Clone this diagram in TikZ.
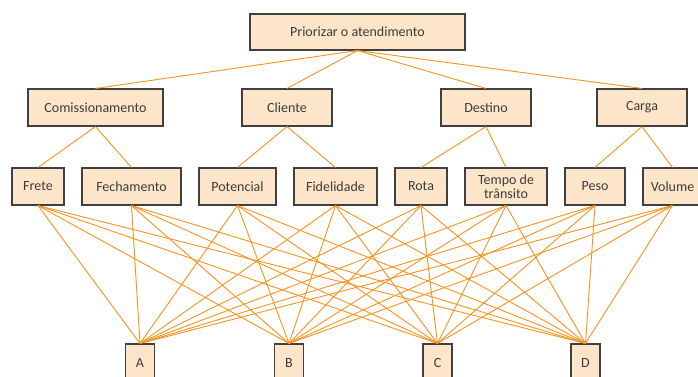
\documentclass[tikz,border=0pt]{standalone}
\usepackage{fontspec}
\setmainfont{Carlito}
\definecolor{boxfill}{HTML}{FDE5C9}
\definecolor{boxdraw}{HTML}{404040}
\definecolor{linkc}{HTML}{F7931E}
\definecolor{txt}{HTML}{3C3C3C}
\begin{document}
\begin{tikzpicture}[x=1pt,y=-1pt,
  box/.style={draw=boxdraw,fill=boxfill,line width=1.1pt,rectangle,inner sep=0pt,
    minimum height=37pt,text=txt,font=\fontsize{14}{15}\selectfont,align=center},
  link/.style={draw=linkc,line width=0.9pt}]
\useasboundingbox[fill=white] (0,0) rectangle (698,377);
% nodes
\node[box,minimum width=215pt,minimum height=36pt] (root) at (357.5,32) {Priorizar o atendimento};
\node[box,minimum width=135pt] (com) at (95.5,107.5) {Comissionamento};
\node[box,minimum width=90pt] (cli) at (287,107.5) {Cliente};
\node[box,minimum width=90pt] (des) at (486,107.5) {Destino};
\node[box,minimum width=90pt] (car) at (642,107.5) {Carga};
\node[box,minimum width=52pt] (fre) at (38,186.5) {Frete};
\node[box,minimum width=99pt] (fec) at (131.5,186.5) {Fechamento};
\node[box,minimum width=77pt] (pot) at (237.5,186.5) {Potencial};
\node[box,minimum width=83pt] (fid) at (335.5,186.5) {Fidelidade};
\node[box,minimum width=52pt] (rot) at (421,186.5) {Rota};
\node[box,minimum width=82pt,font=\fontsize{14}{14.5}\selectfont] (tem) at (506,186.5) {Tempo de\\trânsito};
\node[box,minimum width=60pt] (pes) at (595,186.5) {Peso};
\node[box,minimum width=59pt] (vol) at (672.5,186.5) {Volume};
\node[box,minimum width=29pt,minimum height=38pt] (A) at (140,363) {A};
\node[box,minimum width=29pt,minimum height=38pt] (B) at (289,363) {B};
\node[box,minimum width=29pt,minimum height=38pt] (C) at (437.5,363) {C};
\node[box,minimum width=29pt,minimum height=38pt] (D) at (585.5,363) {D};
% connectors
\foreach \c in {com,cli,des,car} \draw[link] (root.south) -- (\c.north);
\draw[link] (com.south) -- (fre.north);
\draw[link] (com.south) -- (fec.north);
\draw[link] (cli.south) -- (pot.north);
\draw[link] (cli.south) -- (fid.north);
\draw[link] (des.south) -- (rot.north);
\draw[link] (des.south) -- (tem.north);
\draw[link] (car.south) -- (pes.north);
\draw[link] (car.south) -- (vol.north);
\foreach \s in {fre,fec,pot,fid,rot,tem,pes,vol}
  \foreach \t in {A,B,C,D}
    \draw[link] (\s.south) -- (\t.north);
\end{tikzpicture}
\end{document}
